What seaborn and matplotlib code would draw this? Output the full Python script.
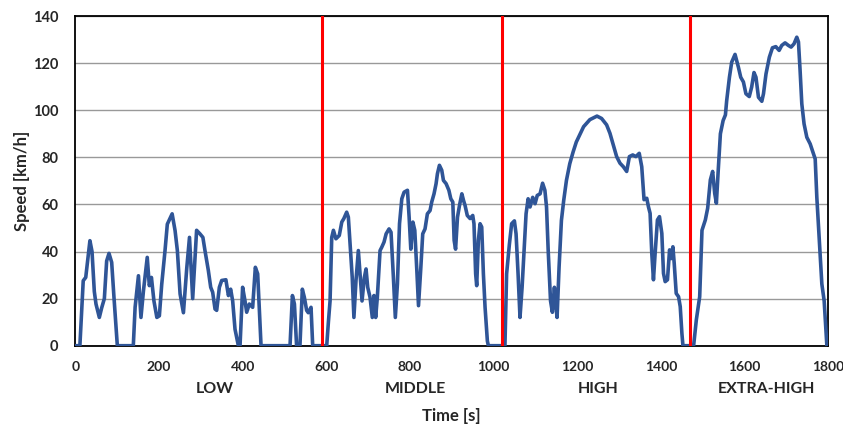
import numpy as np
import pandas as pd
import matplotlib
matplotlib.use("Agg")
import matplotlib.pyplot as plt
import seaborn as sns

# speed trace (time [s], speed [km/h])
time_s = [0, 11, 19, 25, 35, 40, 45.5, 49.5, 57.5, 63, 69.5, 75, 80.6, 87, 92.5, 100.5,
          138.7, 143, 151, 157, 163, 172, 177, 182, 188, 195, 201, 206.6, 214.5, 220, 231.5,
          238.5, 244, 250.5, 258.5, 266.5, 273, 280.6, 290, 298, 305, 310, 318, 323.7, 328.4,
          334, 338, 344.4, 350, 360, 366, 371.4, 376.2, 381.8, 389.8, 393.8, 400, 405.7,
          409.7, 416, 424, 430.4, 436, 440, 444, 513.3, 519, 523.8, 529, 537, 542.7, 547.5,
          553, 557, 563.5, 567.5, 601, 605, 609, 613, 617, 623, 631, 637, 642, 648.7, 652.7,
          658, 662, 666, 671, 676.6, 680.6, 685.4, 691, 695, 699, 704.5, 710, 714, 718, 722,
          728.5, 732.5, 738, 743, 750, 754.7, 760.4, 765, 770, 775, 780.5, 786, 794, 798, 802,
          807, 811.5, 816.4, 820.4, 826, 830.5, 836, 841.6, 848, 852, 857.5, 862.4, 865.6,
          870.4, 876, 880, 886.4, 893, 897.6, 902.4, 905.6, 909, 913.6, 918.4, 924, 928, 931.6,
          937, 943.6, 950, 953, 957, 959.5, 963.5, 967.5, 971.5, 975.5, 979.5, 985, 987.4,
          1027, 1031, 1037.6, 1043, 1049.6, 1053.6, 1058.4, 1063, 1068, 1072.8, 1077.5, 1082.4,
          1087, 1093.4, 1099, 1104.2, 1111, 1117, 1122.5, 1126.4, 1130.4, 1136, 1140.4, 1145.2,
          1148.4, 1151.6, 1156.4, 1162, 1167.5, 1174, 1182, 1190, 1197.6, 1207, 1215, 1230,
          1247, 1258, 1270, 1278, 1286, 1294, 1302, 1310, 1318, 1324.5, 1332.5, 1340, 1348,
          1354, 1359.5, 1366, 1370, 1374, 1378, 1382, 1386, 1391.5, 1396.4, 1402, 1406, 1410,
          1415.5, 1420.5, 1424.5, 1428.5, 1431.6, 1436.4, 1442, 1446, 1450, 1452.5, 1478,
          1484.5, 1492.5, 1498, 1506, 1511.6, 1518, 1523.5, 1528.4, 1532.4, 1536.4, 1542,
          1548.5, 1554, 1557, 1563.6, 1569, 1577, 1585, 1590.6, 1597, 1603, 1611, 1616.7,
          1622.3, 1627, 1633, 1641, 1645, 1651, 1659, 1666.4, 1674.4, 1682.4, 1688.6, 1696.6,
          1704.6, 1711, 1718, 1724.6, 1728.6, 1732.5, 1736.6, 1742, 1748.6, 1756.6, 1764.5,
          1768.6, 1772.5, 1779, 1784.5, 1790, 1796.5, 1800]
speed_kmh = [0, 0, 27.6, 29, 44.6, 40, 23, 17.7, 12, 16, 20, 36, 39.2, 35.4, 20.5, 0,
             0, 16.3, 29.7, 12, 23.4, 37.5, 25.5, 29, 19, 12, 12.7, 26, 40.4, 51.6, 56,
             48.9, 40.4, 22, 14, 33, 46, 20, 49, 47.5, 46, 40.4, 32, 24.8, 22.7,
             15.6, 15, 24.8, 27.7, 28, 21.3, 24, 19, 7, 0, 0, 24.8, 19,
             14.2, 17.7, 16.3, 33.3, 30.5, 15, 0, 0, 21.3, 17.7, 0, 0, 24, 20.6,
             15, 14, 16.3, 0, 0, 10, 19, 46, 49, 45.4, 46.8, 52.5, 54, 56.7, 54.6,
             40.4, 29, 12, 27.7, 40.4, 30.5, 19, 29, 32.6, 24.8, 20.6, 12, 21.3, 12, 20.6,
             40.4, 41.8, 44, 47.5, 49.6, 48.2, 29, 12, 26.2, 51.8, 62.4, 65.2, 66, 54.6, 41,
             52.5, 49, 32, 17, 33.3, 47.5, 49.6, 56, 57.4, 61, 64.5, 68.8, 73,
             76.6, 74.5, 70.2, 68.8, 66, 62.4, 61, 44.7, 41, 54.6, 59.6, 64.5, 61.7, 59.6,
             55.3, 54, 55.3, 51.8, 30.5, 25.5, 44.7, 51.8, 50.4, 30.5, 16.3, 2, 0,
             0, 30.5, 43, 51.8, 53, 47.5, 30.5, 12, 24.8, 40.4, 56, 62.4,
             58.9, 63, 60.3, 63.8, 64.5, 69, 66, 58.9, 40.4, 19, 14.2, 24.8,
             17.7, 12, 33.3, 53.2, 61.7, 70.2, 77.3, 82.3, 86.5, 90, 93, 96,
             97.5, 96.5, 93.8, 90.2, 85.3, 80.3, 77.5, 76, 74, 80.3, 81, 80.3, 81.7,
             76, 62, 62.6, 59, 56.2, 39.2, 28, 39.2, 53.4, 54.8, 47.7, 30.7, 27.2,
             28, 40.7, 37, 42, 35, 22.2, 20.8, 16.6, 5.2, 0, 0,
             11, 20.8, 49, 53.4, 58.4, 70.4, 74, 64.7, 60.5, 73.2, 90,
             95.6, 98, 104, 114, 120.4, 123.7, 118.3, 114, 112, 107, 105.8, 109.8,
             116, 114, 105.5, 103.8, 107, 115.4, 122.5, 126.5, 127, 125.4, 127.5, 128.6,
             127.5, 126.8, 128.2, 131, 129, 116.9, 102.7, 94.2, 88.5, 85.7, 81.4,
             79.3, 63, 43.2, 26.2, 19.1, 0, 0]

phase_bounds = [590, 1021, 1470]
phase_names = ["LOW", "MIDDLE", "HIGH", "EXTRA-HIGH"]
phase_label_x = [333, 812, 1250, 1652]

df = pd.DataFrame({"time": time_s, "speed": speed_kmh})

sns.set_style("white")
plt.rcParams["font.family"] = ["Lato", "DejaVu Sans"]
plt.rcParams["font.weight"] = "bold"

fig, ax = plt.subplots(figsize=(8.43, 4.26), dpi=100)
fig.subplots_adjust(left=0.0893, right=0.9826, top=0.9624, bottom=0.1885)

ax.yaxis.grid(True, color="#999999", linewidth=1.0)
ax.set_axisbelow(True)

sns.lineplot(data=df, x="time", y="speed", ax=ax, color="#2F5597", linewidth=2.6,
             estimator=None, sort=False, zorder=3, solid_joinstyle="round")

for b in phase_bounds:
    ax.axvline(b, color="#FF0000", linewidth=2.2, zorder=4)

ax.set_xlim(0, 1800)
ax.set_ylim(0, 140)
ax.set_xticks(np.arange(0, 1801, 200))
ax.set_yticks(np.arange(0, 141, 20))

for s in ax.spines.values():
    s.set_color("black")
    s.set_linewidth(1.3)
    s.set_visible(True)

ax.tick_params(axis="x", direction="in", length=4, width=0.8, color="#808080",
               labelsize=10, pad=11)
ax.tick_params(axis="y", length=0, labelsize=10.5, pad=12)
for lab in ax.get_xticklabels() + ax.get_yticklabels():
    lab.set_fontweight("bold")

trans = ax.get_xaxis_transform()
for name, xpos in zip(phase_names, phase_label_x):
    ax.text(xpos, -0.13, name, transform=trans, ha="center", va="center",
            fontsize=11.5, fontweight="bold")

ax.set_xlabel("")
ax.text(0.5, -0.213, "Time [s]", transform=ax.transAxes, ha="center", va="center",
        fontsize=12, fontweight="bold")
ax.set_ylabel("Speed [km/h]", fontsize=12, fontweight="bold", labelpad=2)

fig.savefig("out.png", dpi=100, facecolor="white")
